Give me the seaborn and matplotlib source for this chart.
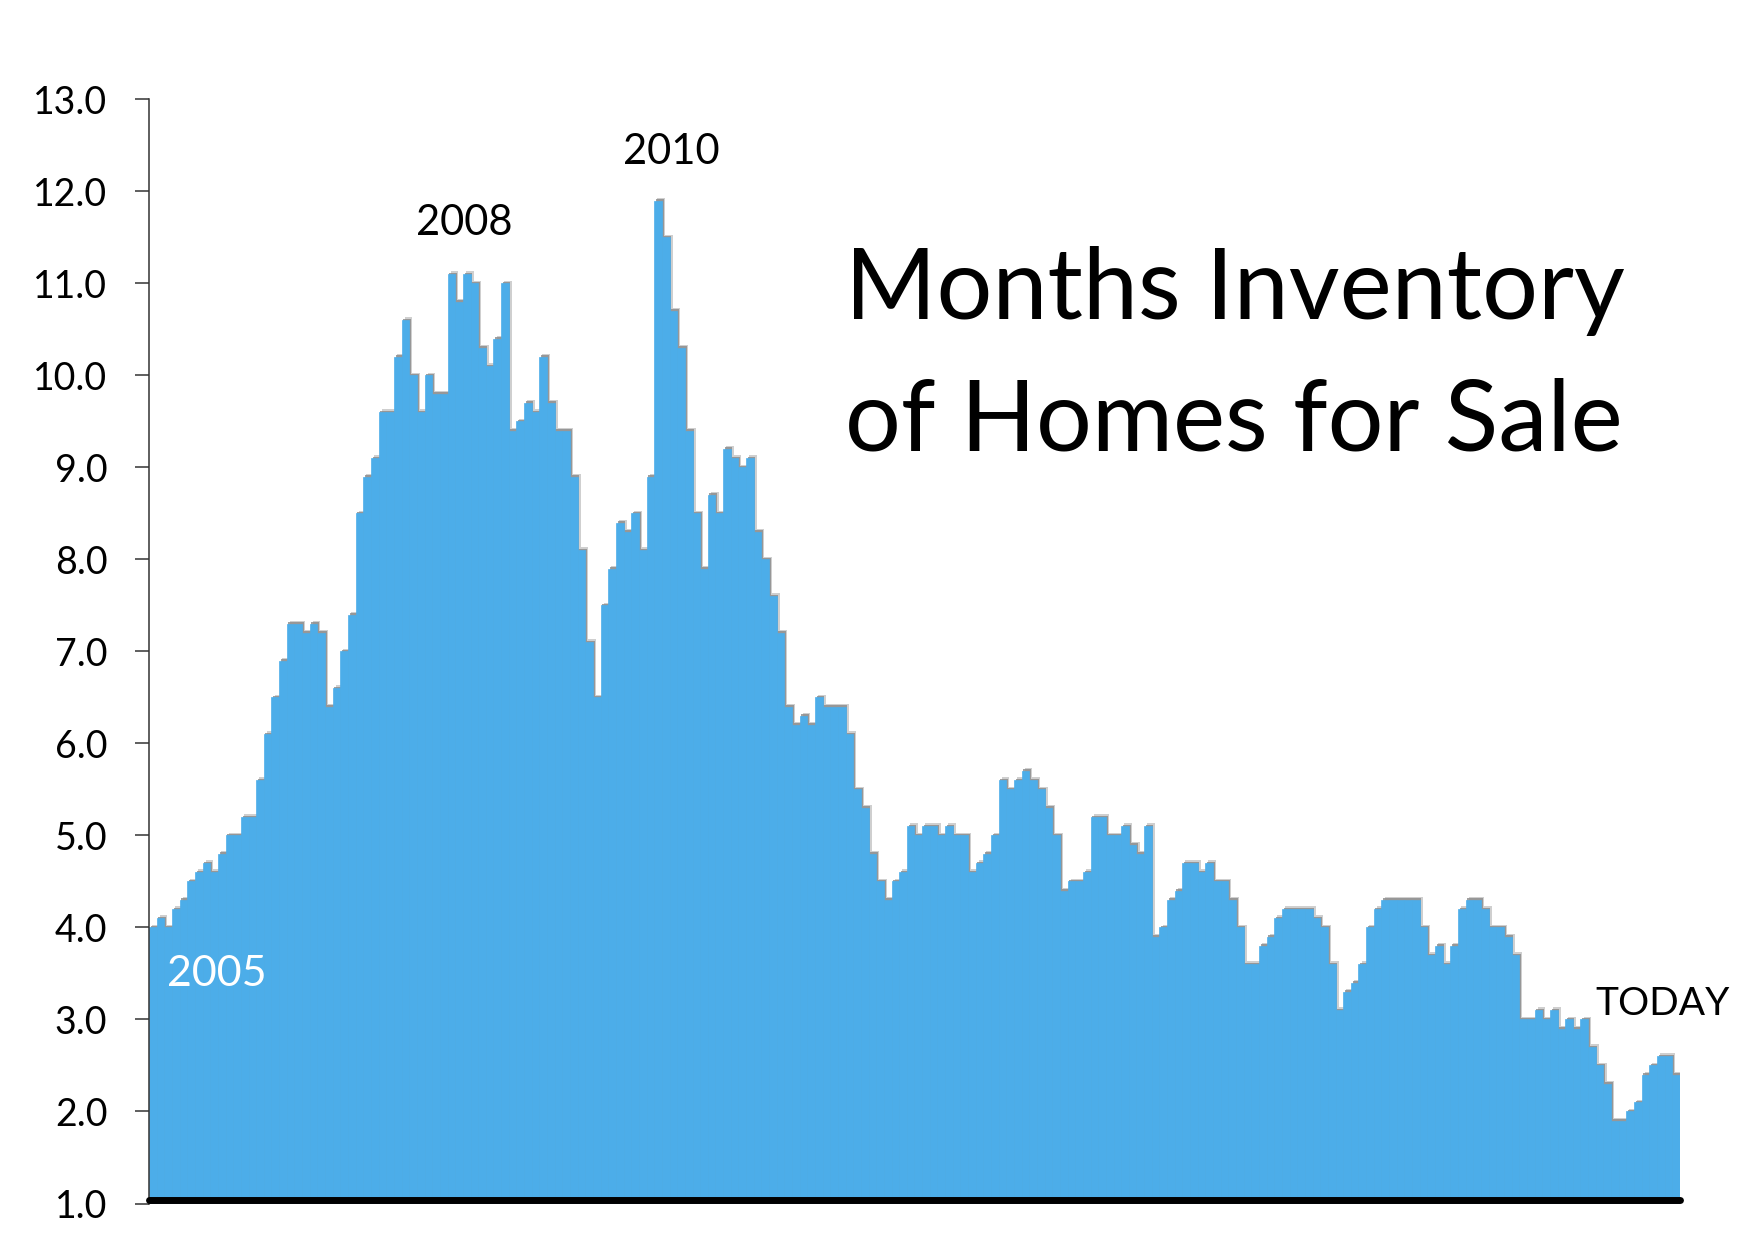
import numpy as np
import pandas as pd
import matplotlib
matplotlib.use("Agg")
import matplotlib.pyplot as plt
import matplotlib.patheffects as pe
import seaborn as sns

# ---- data: months of inventory, one value per month (Jan 2005 onward) ----
y2005 = [4.0, 4.1, 4.0, 4.2, 4.3, 4.5, 4.6, 4.7, 4.6, 4.8, 5.0, 5.0]
y2006 = [5.2, 5.2, 5.6, 6.1, 6.5, 6.9, 7.3, 7.3, 7.2, 7.3, 7.2, 6.4]
y2007 = [6.6, 7.0, 7.4, 8.5, 8.9, 9.1, 9.6, 9.6, 10.2, 10.6, 10.0, 9.6]
y2008 = [10.0, 9.8, 9.8, 11.1, 10.8, 11.1, 11.0, 10.3, 10.1, 10.4, 11.0, 9.4]
y2009 = [9.5, 9.7, 9.6, 10.2, 9.7, 9.4, 9.4, 8.9, 8.1, 7.1, 6.5, 7.5]
y2010 = [7.9, 8.4, 8.3, 8.5, 8.1, 8.9, 11.9, 11.5, 10.7, 10.3, 9.4, 8.5]
y2011 = [7.9, 8.7, 8.5, 9.2, 9.1, 9.0, 9.1, 8.3, 8.0, 7.6, 7.2, 6.4]
y2012 = [6.2, 6.3, 6.2, 6.5, 6.4, 6.4, 6.4, 6.1, 5.5, 5.3, 4.8, 4.5]
y2013 = [4.3, 4.5, 4.6, 5.1, 5.0, 5.1, 5.1, 5.0, 5.1, 5.0, 5.0, 4.6]
y2014 = [4.7, 4.8, 5.0, 5.6, 5.5, 5.6, 5.7, 5.6, 5.5, 5.3, 5.0, 4.4]
y2015 = [4.5, 4.5, 4.6, 5.2, 5.2, 5.0, 5.0, 5.1, 4.9, 4.8, 5.1, 3.9]
y2016 = [4.0, 4.3, 4.4, 4.7, 4.7, 4.6, 4.7, 4.5, 4.5, 4.3, 4.0, 3.6]
y2017 = [3.6, 3.8, 3.9, 4.1, 4.2, 4.2, 4.2, 4.2, 4.1, 4.0, 3.6, 3.1]
y2018 = [3.3, 3.4, 3.6, 4.0, 4.2, 4.3, 4.3, 4.3, 4.3, 4.3, 4.0, 3.7]
y2019 = [3.8, 3.6, 3.8, 4.2, 4.3, 4.3, 4.2, 4.0, 4.0, 3.9, 3.7, 3.0]
y2020 = [3.0, 3.1, 3.0, 3.1, 2.9, 3.0, 2.9, 3.0, 2.7, 2.5, 2.3, 1.9]
y2021 = [1.9, 2.0, 2.1, 2.4, 2.5, 2.6, 2.6, 2.4]

yearly = [y2005, y2006, y2007, y2008, y2009, y2010, y2011, y2012, y2013,
          y2014, y2015, y2016, y2017, y2018, y2019, y2020, y2021]
supply = [v for yr in yearly for v in yr]
months = pd.date_range("2005-01-01", periods=len(supply), freq="MS").strftime("%Y-%m")

y_ticks = [1.0, 2.0, 3.0, 4.0, 5.0, 6.0, 7.0, 8.0, 9.0, 10.0, 11.0, 12.0, 13.0]
y_tick_labels = [f"{t:.1f}" for t in y_ticks]
title_lines = ["Months Inventory", "of Homes for Sale"]

df = pd.DataFrame({"month": months, "supply": supply})

# ---- style ----
sns.set_style("white")
plt.rcParams["font.family"] = ["Lato", "DejaVu Sans"]

BLUE = "#4CADE9"
W, H = 1756, 1242

fig = plt.figure(figsize=(W / 100, H / 100), dpi=100)
ax = fig.add_axes([149 / W, 1 - 1203.5 / H, (1680 - 149) / W, (1203.5 - 99.3) / H])

sns.barplot(data=df, x="month", y="supply", color=BLUE, saturation=1,
            width=1.0, edgecolor=BLUE, linewidth=0.5, ax=ax)

shadow = [pe.SimplePatchShadow(offset=(2.2, 2.0), shadow_rgbFace="#b0b0b0", alpha=0.6),
          pe.SimplePatchShadow(offset=(1.2, 1.1), shadow_rgbFace="#8a8a8a", alpha=0.8),
          pe.Normal()]
for p in ax.patches:
    p.set_path_effects(shadow)

ax.set_xlim(-0.5, len(supply) - 0.5)
ax.set_ylim(1, 13)
ax.set_yticks(y_ticks)
ax.set_yticklabels(y_tick_labels)
ax.set_xticks([])
ax.set_xlabel("")
ax.set_ylabel("")

for s in ["top", "right", "bottom"]:
    ax.spines[s].set_visible(False)
ax.spines["left"].set_color("#333333")
ax.spines["left"].set_linewidth(1.1)
ax.tick_params(axis="y", which="major", direction="out", length=10, width=1.1,
               color="#333333", pad=20, labelsize=27, labelcolor="black", left=True)

# thick baseline
ax.axhline(1.04, color="black", linewidth=5, zorder=5, clip_on=False)

# ---- annotations ----
def fx(px):
    return px / W

def fy(py):
    return 1 - py / H

fig.text(fx(845), fy(319.3), title_lines[0], fontsize=71, ha="left", va="baseline", color="black")
fig.text(fx(845), fy(450), title_lines[1], fontsize=71, ha="left", va="baseline", color="black")

fig.text(fx(217), fy(986), "2005", fontsize=31, ha="center", va="baseline", color="white")
fig.text(fx(464), fy(235.3), "2008", fontsize=30, ha="center", va="baseline", color="black")
fig.text(fx(671), fy(164), "2010", fontsize=30, ha="center", va="baseline", color="black")
fig.text(fx(1595), fy(1015), "TODAY", fontsize=28, ha="left", va="baseline", color="black")

fig.savefig("out.png", dpi=100, facecolor="white")
